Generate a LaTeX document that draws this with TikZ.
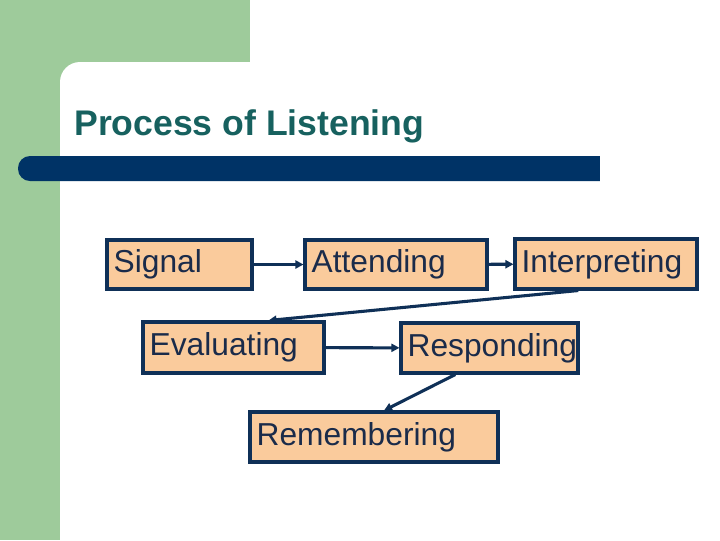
\documentclass[tikz,border=0pt]{standalone}
\usepackage{fontspec}
\setmainfont{Liberation Sans}
\usetikzlibrary{positioning, arrows.meta, calc}

\definecolor{slidegreen}{HTML}{9ECB9B}
\definecolor{barblue}{HTML}{003366}
\definecolor{titleteal}{HTML}{17615F}
\definecolor{boxfill}{HTML}{FACB9C}
\definecolor{boxline}{HTML}{0F3057}
\definecolor{boxtext}{HTML}{1A2B4A}

\tikzset{
  stagebox/.style={draw=boxline, fill=boxfill, line width=2.3pt, rectangle,
    inner xsep=5pt, align=left, text=boxtext, font=\fontsize{23.8}{27}\selectfont},
  flow/.style={draw=boxline, line width=2.3pt, -{Triangle[length=6pt,width=6pt]}}
}

\begin{document}
\begin{tikzpicture}[x=0.75pt, y=-0.75pt]
\useasboundingbox (0,0) rectangle (720,540);
% background of the slide
\fill[white] (0,0) rectangle (720,540);
\fill[slidegreen] (0,0) rectangle (250,100);
\fill[slidegreen] (0,0) rectangle (100,540);
\fill[white, rounded corners=15pt] (60,62) rectangle (740,560);
\fill[barblue, rounded corners=9pt] (18,156) rectangle (620,181);
\fill[white] (600,150) rectangle (720,190);

\node[anchor=base west, inner sep=0pt, text=titleteal, font=\bfseries\fontsize{26.7}{30}\selectfont] (title) at (74,135) {Process of Listening};

% stages
\node[stagebox, minimum width=108.75pt, minimum height=36.75pt, text width=98.75pt] (signal) at (179.5,264.5) {Signal};
\node[stagebox, minimum width=136.5pt, minimum height=36.75pt, text width=126.5pt] (attend) at (396,264.5) {Attending};
\node[stagebox, minimum width=136.5pt, minimum height=37.5pt, text width=126.5pt] (interp) at (606,264) {Interpreting};
\node[stagebox, minimum width=135.75pt, minimum height=38.25pt, text width=125.75pt] (eval) at (233.5,347.5) {Evaluating};
\node[stagebox, minimum width=132.75pt, minimum height=37.5pt, text width=122.75pt] (respond) at (489.5,348) {Responding};
\node[stagebox, minimum width=186pt, minimum height=37.5pt, text width=176pt] (remember) at (374,437) {Remembering};

% arrows
\draw[flow] (signal) -- (attend);
\draw[flow] (attend) -- (interp);
\draw[flow] ($(interp.south west)!0.35!(interp.south east)$) -- ($(eval.north west)!0.69!(eval.north east)$);
\draw[flow] (eval) -- (respond);
\draw[flow] ($(respond.south west)!0.31!(respond.south east)$) -- ($(remember.north west)!0.54!(remember.north east)$);
\end{tikzpicture}
\end{document}
